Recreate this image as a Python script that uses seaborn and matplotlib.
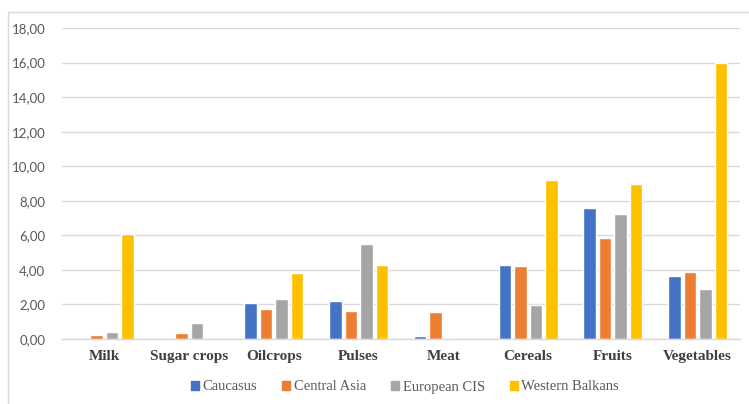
import matplotlib
matplotlib.use("Agg")
import matplotlib.pyplot as plt
from matplotlib.patches import Rectangle
import seaborn as sns
import pandas as pd

categories = ["Milk", "Sugar crops", "Oilcrops", "Pulses", "Meat", "Cereals", "Fruits", "Vegetables"]
regions = ["Caucasus", "Central Asia", "European CIS", "Western Balkans"]
caucasus = [0.00, 0.00, 2.10, 2.20, 0.20, 4.28, 7.58, 3.66]
central_asia = [0.22, 0.35, 1.75, 1.60, 1.55, 4.22, 5.86, 3.90]
european_cis = [0.40, 0.95, 2.30, 5.50, 0.05, 1.97, 7.22, 2.88]
western_balkans = [6.05, 0.00, 3.80, 4.30, 0.00, 9.20, 9.00, 16.00]
yticks = [0, 2, 4, 6, 8, 10, 12, 14, 16, 18]
palette = ["#4472C4", "#ED7D31", "#A5A5A5", "#FFC000"]

series = [caucasus, central_asia, european_cis, western_balkans]
rows = []
for region, vals in zip(regions, series):
    for cat, v in zip(categories, vals):
        rows.append({"category": cat, "region": region, "value": v})
df = pd.DataFrame(rows)

sns.set_theme(style="white")
fig = plt.figure(figsize=(7.49, 4.04), dpi=100)
ax = fig.add_axes([62 / 749, 65 / 404, 678 / 749, 311 / 404])

sns.barplot(data=df, x="category", y="value", hue="region", order=categories,
            hue_order=regions, palette=palette, width=0.73, gap=0.2,
            saturation=1, errorbar=None, ax=ax, legend=True)

ax.set_ylim(0, 18)
ax.set_xlim(-0.5, len(categories) - 0.5)
ax.set_yticks(yticks)
ax.set_yticklabels([f"{t:.2f}".replace(".", ",") for t in yticks],
                   fontfamily="Lato", fontsize=9.5, color="#595959")
ax.set_xticks(range(len(categories)))
ax.set_xticklabels(categories, fontfamily="Liberation Serif", fontweight="bold",
                   fontsize=11, color="#404040")
ax.tick_params(axis="y", length=0, pad=12)
ax.tick_params(axis="x", length=0, pad=8)
ax.set_xlabel("")
ax.set_ylabel("")
ax.yaxis.grid(True, color="#d9d9d9", linewidth=1)
ax.set_axisbelow(True)
for side in ["left", "right", "top"]:
    ax.spines[side].set_visible(False)
ax.spines["bottom"].set_color("#d9d9d9")
ax.spines["bottom"].set_linewidth(1)

ax.legend_.remove()
handles = [Rectangle((0, 0), 1, 1, color=c) for c in palette]
fig.legend(handles, regions, loc="center", bbox_to_anchor=(405 / 749, 1 - 387 / 404),
           ncol=4, frameon=False, handlelength=0.55, handleheight=0.55,
           handletextpad=0.25, columnspacing=1.7,
           prop={"family": "Liberation Serif", "size": 10.5}, labelcolor="#595959")

fig.patches.append(Rectangle((8 / 749, -0.05), 1.0, 1 - 12 / 404 + 0.05,
                             transform=fig.transFigure, fill=False,
                             edgecolor="#d9d9d9", linewidth=1))

fig.savefig("out.png", dpi=100)
